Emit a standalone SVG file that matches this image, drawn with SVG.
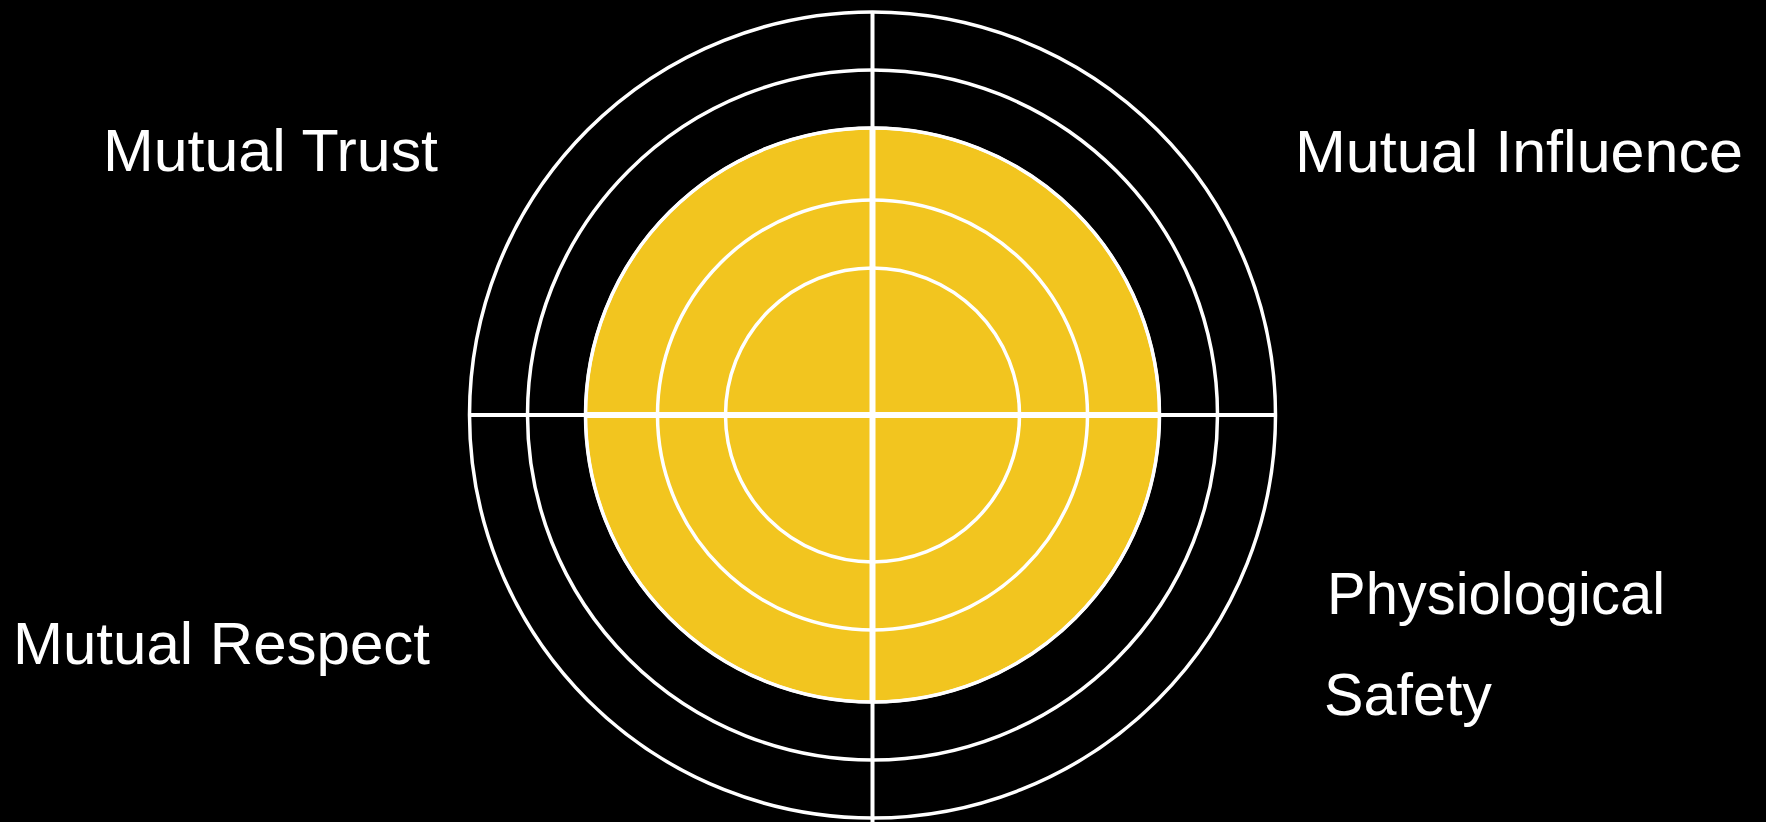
<svg xmlns="http://www.w3.org/2000/svg" width="1766" height="822" viewBox="0 0 1766 822">
<style>
.ring{fill:none;stroke:#ffffff;stroke-width:3.5}
.quad{fill:#F2C51F;stroke:#ffffff;stroke-width:3}
.axis{stroke:#ffffff;stroke-width:4}
.axis-in{stroke:#ffffff;stroke-width:6}
.lbl{font-family:"Liberation Sans",Arial,sans-serif;font-size:60px;fill:#ffffff}
</style>
<rect x="0" y="0" width="1766" height="822" fill="#000000"/>
<g id="target">
<circle class="ring" cx="872.5" cy="415" r="403"/>
<circle class="ring" cx="872.5" cy="415" r="345"/>
<path class="quad" d="M872.5,415 L872.5,128 A287,287 0 0 0 585.5,415 Z"/>
<path class="quad" d="M872.5,415 L1159.5,415 A287,287 0 0 0 872.5,128 Z"/>
<path class="quad" d="M872.5,415 L585.5,415 A287,287 0 0 0 872.5,702 Z"/>
<path class="quad" d="M872.5,415 L872.5,702 A287,287 0 0 0 1159.5,415 Z"/>
<circle class="ring" cx="872.5" cy="415" r="287" stroke-width="5"/>
<circle class="ring" cx="872.5" cy="415" r="215"/>
<circle class="ring" cx="872.5" cy="415" r="147"/>
</g>
<g id="connectors">
<line class="axis" x1="872.5" y1="12" x2="872.5" y2="822"/>
<line class="axis" x1="468" y1="415" x2="1277" y2="415"/>
<line class="axis-in" x1="872.5" y1="128" x2="872.5" y2="702"/>
<line class="axis-in" x1="585.5" y1="415" x2="1159.5" y2="415"/>
</g>
<g id="mutual-trust"><text class="lbl" x="103" y="171" textLength="335" lengthAdjust="spacingAndGlyphs">Mutual Trust</text></g>
<g id="mutual-influence"><text class="lbl" x="1295" y="172" textLength="448" lengthAdjust="spacingAndGlyphs">Mutual Influence</text></g>
<g id="mutual-respect"><text class="lbl" x="13" y="664" textLength="417" lengthAdjust="spacingAndGlyphs">Mutual Respect</text></g>
<g id="physiological-safety">
<text class="lbl" x="1327" y="614" textLength="338" lengthAdjust="spacingAndGlyphs">Physiological</text>
<text class="lbl" x="1324" y="715" textLength="168" lengthAdjust="spacingAndGlyphs">Safety</text>
</g>
</svg>
